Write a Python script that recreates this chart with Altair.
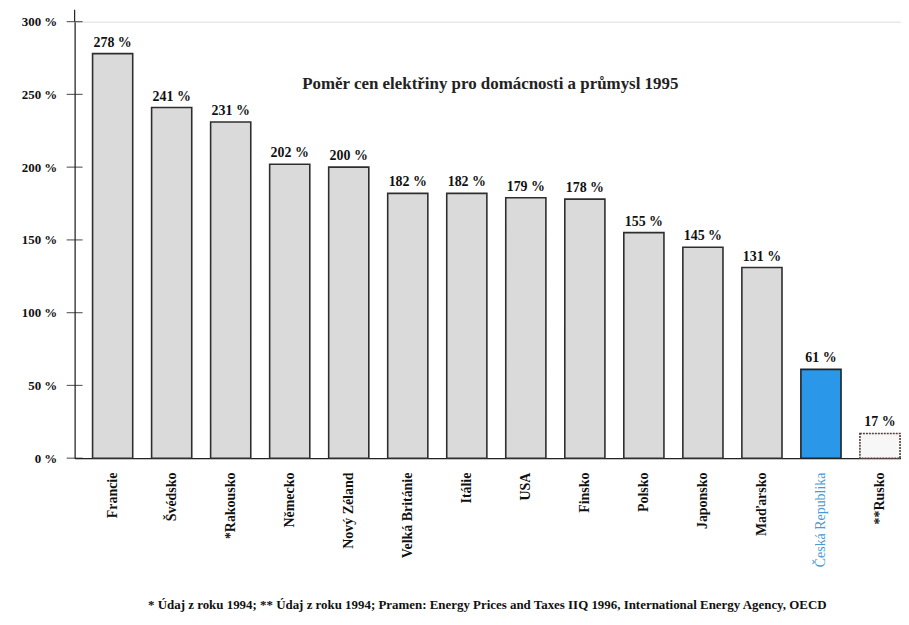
import altair as alt
import pandas as pd

countries = ["Francie", "Švédsko", "*Rakousko", "Německo", "Nový Zéland", "Velká Británie",
             "Itálie", "USA", "Finsko", "Polsko", "Japonsko", "Maďarsko",
             "Česká Republika", "**Rusko"]
values = [278, 241, 231, 202, 200, 182, 182, 179, 178, 155, 145, 131, 61, 17]
kinds = ["oecd"] * 12 + ["cz", "ru"]
y_ticks = [0, 50, 100, 150, 200, 250, 300]

title_text = "Poměr cen elektřiny pro domácnosti a průmysl 1995"
footnote = ("* Údaj z roku 1994; ** Údaj z roku 1994; Pramen: Energy Prices and Taxes IIQ 1996, "
            "International Energy Agency, OECD")

df = pd.DataFrame({"country": countries, "value": values, "kind": kinds})
df["label"] = df["value"].astype(str) + " %"
ticks_df = pd.DataFrame({"t": y_ticks})

FONT = "Liberation Serif"

xscale = alt.Scale(domain=countries, paddingInner=0.32, paddingOuter=0.16, align=0.95)
yscale = alt.Scale(domain=[0, 300], nice=False)

x_axis = alt.Axis(
    title=None, labelAngle=-90, labelAlign="right", labelBaseline="middle",
    labelPadding=14, ticks=False, domain=True, domainColor="#222", domainWidth=1.2,
    labelFont=FONT, labelFontSize=14,
    labelFontWeight=alt.ExprRef("datum.value == 'Česká Republika' ? 'normal' : 'bold'"),
    labelColor=alt.ExprRef("datum.value == 'Česká Republika' ? '#4a9ad6' : '#111'"),
)
y_axis = alt.Axis(
    title=None, values=y_ticks, labelExpr="datum.value + ' %'", ticks=False,
    labelPadding=18, labelFont=FONT, labelFontSize=13, labelFontWeight="bold",
    labelColor="#111", domainColor="#222", domainWidth=1.2, grid=False,
)

bars = alt.Chart(df).mark_bar(strokeWidth=1.6).encode(
    x=alt.X("country:N", scale=xscale, axis=x_axis, sort=countries),
    y=alt.Y("value:Q", scale=yscale, axis=y_axis),
    fill=alt.Fill("kind:N", scale=alt.Scale(domain=["oecd", "cz", "ru"],
                                            range=["#dadada", "#2a97e8", "#f7f7f7"]), legend=None),
    stroke=alt.Stroke("kind:N", scale=alt.Scale(domain=["oecd", "cz", "ru"],
                                                range=["#2e2e2e", "#222222", "#5a3a3a"]), legend=None),
    strokeDash=alt.StrokeDash("kind:N", scale=alt.Scale(domain=["oecd", "cz", "ru"],
                                                        range=[[1, 0], [1, 0], [2, 1]]), legend=None),
)

labels = alt.Chart(df).mark_text(dy=-11, font=FONT, fontSize=14, fontWeight="bold", color="#111").encode(
    x=alt.X("country:N", scale=xscale, sort=countries),
    y=alt.Y("value:Q", scale=yscale),
    text="label:N",
)

yticks = alt.Chart(ticks_df).mark_tick(orient="horizontal", size=16, thickness=1.2, color="#222").encode(
    x=alt.value(0),
    y=alt.Y("t:Q", scale=yscale),
)

axis_ext = alt.Chart(pd.DataFrame({"a": [0]})).mark_rule(color="#222", strokeWidth=1.2).encode(
    x=alt.value(0), y=alt.value(-12), y2=alt.value(0)
)

title = alt.Chart(pd.DataFrame({"t": [title_text]})).mark_text(
    font=FONT, fontSize=17, fontWeight="bold", color="#222", align="center", baseline="middle"
).encode(x=alt.value(418), y=alt.value(63), text="t:N")

foot = alt.Chart(pd.DataFrame({"t": [footnote]})).mark_text(
    font=FONT, fontSize=13, fontWeight="bold", color="#111", align="center", baseline="middle"
).encode(x=alt.value(415), y=alt.value(587), text="t:N")

chart = alt.layer(bars, labels, yticks, axis_ext, title, foot).properties(
    width=831, height=439,
    autosize=alt.AutoSizeParams(type="none"),
    padding={"left": 67, "top": 12, "right": 0, "bottom": 158},
).configure_view(stroke=None).configure(background="white")

chart.save("out.html", embed_options={"renderer": "svg", "actions": False})
